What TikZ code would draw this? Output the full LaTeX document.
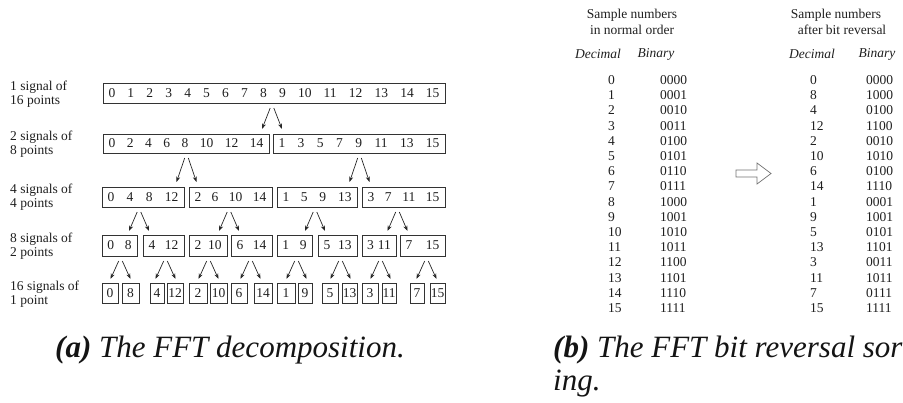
\documentclass[tikz,border=0pt]{standalone}
\usepackage{fontspec}
\setmainfont{Liberation Serif}
\usetikzlibrary{arrows.meta}
\newcommand\hf{\hfill}
\newcommand\sigbox[6]{%
  \pgfmathsetmacro\bw{#3-#2}\pgfmathsetmacro\bh{#5-#4}%
  \pgfmathsetmacro\bx{(#2+#3)/2}\pgfmathsetmacro\by{(#4+#5)/2}%
  \pgfmathsetmacro\tw{max(\bw-min(11,0.3*\bw),0)}%
  \node[sbox, minimum width=\bw pt, minimum height=\bh pt] (#1) at (\bx,\by) {\makebox[\tw pt]{#6}};}
\newcommand\splitpair[4]{%
  \coordinate (#4l1) at (#1-1.8,#2); \coordinate (#4l2) at (#1-10,#3);
  \coordinate (#4r1) at (#1+1.8,#2); \coordinate (#4r2) at (#1+10,#3);
  \draw[split] (#4l1) -- (#4l2); \draw[split] (#4r1) -- (#4r2);}
\begin{document}
\begin{tikzpicture}[x=1pt,y=-1pt,
  sbox/.style={draw=black!80, line width=0.8pt, inner sep=0pt, text=black!88,
    font=\fontsize{13.5}{14}\selectfont},
  split/.style={-{Stealth[length=5.5pt,width=4pt]}, line width=0.7pt, draw=black!85},
  lbl/.style={anchor=west, align=left, inner sep=0pt, text=black!88,
    font=\fontsize{13.5}{13.5}\selectfont},
  tab/.style={inner sep=0pt, text=black!88, font=\fontsize{13.5}{14}\selectfont},
  tabit/.style={tab, font=\fontsize{13.5}{14}\selectfont\itshape},
  captxt/.style={inner sep=0pt, text=black!92, font=\fontsize{31}{33}\selectfont\itshape}]
\useasboundingbox (0,0) rectangle (903,403);
% ---------- left: FFT decomposition ----------
\node[lbl] (l1) at (10,94) {1 signal of\\16 points};
\node[lbl] (l2) at (10,144) {2 signals of\\8 points};
\node[lbl] (l3) at (10,197) {4 signals of\\4 points};
\node[lbl] (l4) at (10,246) {8 signals of\\2 points};
\node[lbl] (l5) at (10,294) {16 signals of\\1 point};
% row 1
\sigbox{a1}{103}{445}{83}{103}{0\hf1\hf2\hf3\hf4\hf5\hf6\hf7\hf8\hf9\hf10\hf11\hf12\hf13\hf14\hf15}
% row 2
\sigbox{b1}{103}{269}{134}{153}{0\hf2\hf4\hf6\hf8\hf10\hf12\hf14}
\sigbox{b2}{273}{445}{134}{153}{1\hf3\hf5\hf7\hf9\hf11\hf13\hf15}
% row 3
\sigbox{c1}{102}{184}{187}{207}{0\hf4\hf8\hf12}
\sigbox{c2}{189}{272}{187}{207}{2\hf6\hf10\hf14}
\sigbox{c3}{277}{357}{187}{207}{1\hf5\hf9\hf13}
\sigbox{c4}{362}{445}{187}{207}{3\hf7\hf11\hf15}
% row 4
\sigbox{d1}{102}{137}{235}{256}{0\hf8}
\sigbox{d2}{143}{184}{235}{256}{4\hf12}
\sigbox{d3}{189}{227}{235}{256}{2\hf10}
\sigbox{d4}{231}{272}{235}{256}{6\hf14}
\sigbox{d5}{277}{312}{235}{256}{1\hf9}
\sigbox{d6}{318}{357}{235}{256}{5\hf13}
\sigbox{d7}{362}{396}{235}{256}{3\hf11}
\sigbox{d8}{400}{445}{235}{256}{7\hf15}
% row 5
\sigbox{e1}{102}{118}{283}{303}{0}
\sigbox{e2}{122}{139}{283}{303}{8}
\sigbox{e3}{150}{164}{283}{303}{4}
\sigbox{e4}{167}{183}{283}{303}{12}
\sigbox{e5}{189}{207}{283}{303}{2}
\sigbox{e6}{210}{227}{283}{303}{10}
\sigbox{e7}{231}{247}{283}{303}{6}
\sigbox{e8}{254}{272}{283}{303}{14}
\sigbox{e9}{277}{295}{283}{303}{1}
\sigbox{e10}{298}{312}{283}{303}{9}
\sigbox{e11}{322}{338}{283}{303}{5}
\sigbox{e12}{342}{357}{283}{303}{13}
\sigbox{e13}{362}{378}{283}{303}{3}
\sigbox{e14}{382}{396}{283}{303}{11}
\sigbox{e15}{410}{424}{283}{303}{7}
\sigbox{e16}{430}{445}{283}{303}{15}
% split arrows
\splitpair{272}{108}{129}{s1}
\splitpair{186.5}{158}{182}{s2}
\splitpair{359.5}{158}{182}{s3}
\splitpair{139}{212}{231}{s4}
\splitpair{229}{212}{231}{s5}
\splitpair{315}{212}{231}{s6}
\splitpair{397.5}{212}{231}{s7}
\splitpair{120.5}{261}{279}{s8}
\splitpair{165.5}{261}{279}{s9}
\splitpair{208.5}{261}{279}{s10}
\splitpair{250.5}{261}{279}{s11}
\splitpair{296.5}{261}{279}{s12}
\splitpair{340.5}{261}{279}{s13}
\splitpair{380.5}{261}{279}{s14}
\splitpair{426.5}{261}{279}{s15}
% ---------- right: bit reversal table ----------
\node[tab] (h1a) at (632,15) {Sample numbers};
\node[tab] (h1b) at (632,30) {in normal order};
\node[tab] (h2a) at (836,15) {Sample numbers};
\node[tab] (h2b) at (842,30) {after bit reversal};
\node[tabit] (d1h) at (598,54) {Decimal};
\node[tabit] (b1h) at (656,54) {Binary};
\node[tabit] (d2h) at (812,54) {Decimal};
\node[tabit] (b2h) at (877,54) {Binary};
\foreach \dn/\bn/\dr/\br [count=\k from 0] in
 {0/0000/0/0000, 1/0001/8/1000, 2/0010/4/0100, 3/0011/12/1100,
  4/0100/2/0010, 5/0101/10/1010, 6/0110/6/0100, 7/0111/14/1110,
  8/1000/1/0001, 9/1001/9/1001, 10/1010/5/0101, 11/1011/13/1101,
  12/1100/3/0011, 13/1101/11/1011, 14/1110/7/0111, 15/1111/15/1111}{
  \node[tab,anchor=west] (nd\k) at (608,80+15.2*\k) {\dn};
  \node[tab,anchor=west] (nb\k) at (660,80+15.2*\k) {\bn};
  \node[tab,anchor=west] (rd\k) at (810,80+15.2*\k) {\dr};
  \node[tab,anchor=west] (rb\k) at (866,80+15.2*\k) {\br};
}
\draw[draw=black!55, line width=0.7pt, fill=white]
  (736,170) -- (757,170) -- (757,163) -- (771,173.5) -- (757,184) -- (757,177) -- (736,177) -- cycle;
% ---------- captions ----------
\node[captxt, anchor=base] (capa) at (230,358) {{\bfseries(a)} The FFT decomposition.};
\node[captxt, anchor=base west] (capb) at (553,358) {{\bfseries(b)} The FFT bit reversal sor};
\node[captxt, anchor=base west] (capb2) at ([yshift=-33pt]capb.base west) {ing.};
\end{tikzpicture}
\end{document}
